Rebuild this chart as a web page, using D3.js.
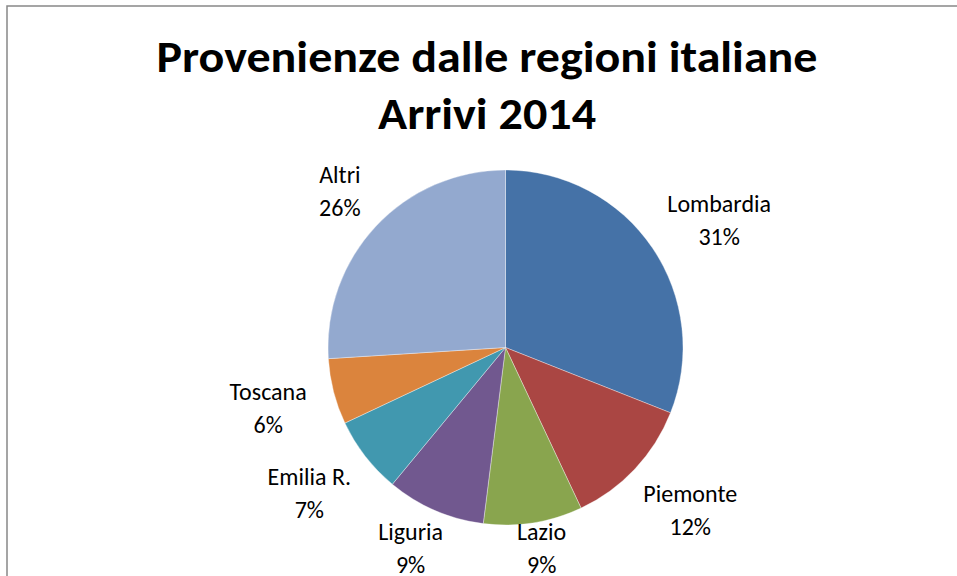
<!DOCTYPE html>
<html>
<head>
<meta charset="utf-8">
<script src="https://cdn.jsdelivr.net/npm/d3@7"></script>
<style>
  body { margin: 0; background: #fff; }
  svg { display: block; font-family: Carlito, Calibri, Lato, sans-serif; }
</style>
</head>
<body>
<div id="chart"></div>
<script>
var regions = ['Lombardia', 'Piemonte', 'Lazio', 'Liguria', 'Emilia R.', 'Toscana', 'Altri'];
var shares = [31, 12, 9, 9, 7, 6, 26];
var sliceColors = ['#4572A7', '#AA4643', '#89A54E', '#71588F', '#4198AF', '#DB843D', '#93A9CF'];
var titleLines = ['Provenienze dalle regioni italiane', 'Arrivi 2014'];

var W = 957, H = 576;
var svg = d3.select('#chart').append('svg')
    .attr('width', W)
    .attr('height', H);

// chart frame (runs off right / bottom)
svg.append('rect')
    .attr('x', 7).attr('y', 6)
    .attr('width', W + 10).attr('height', H + 10)
    .attr('fill', 'none')
    .attr('stroke', '#888')
    .attr('stroke-width', 1.5);

// title
var titleWidths = [661, 218];
svg.selectAll('text.title')
    .data(titleLines)
    .enter().append('text')
    .attr('class', 'title')
    .attr('x', 487)
    .attr('y', function(d, i) { return 72 + i * 57; })
    .attr('text-anchor', 'middle')
    .style('font-size', '44px')
    .style('font-weight', 'bold')
    .attr('textLength', function(d, i) { return titleWidths[i]; })
    .attr('lengthAdjust', 'spacingAndGlyphs')
    .text(function(d) { return d; });

var cx = 505.5, cy = 347.5, r = 177.5;
var data = regions.map(function(d, i) { return {name: d, value: shares[i], color: sliceColors[i]}; });

var pie = d3.pie().sort(null).value(function(d) { return d.value; });
var arc = d3.arc().innerRadius(0).outerRadius(r);
var arcs = pie(data);

var g = svg.append('g').attr('transform', 'translate(' + cx + ',' + cy + ')');

g.selectAll('path')
    .data(arcs)
    .enter().append('path')
    .attr('d', arc)
    .attr('fill', function(d) { return d.data.color; })
    .attr('stroke', '#fff')
    .attr('stroke-width', 0.6)
    .attr('stroke-opacity', 0.6);

// labels: outside end, box touching a point just outside the pie, clamped to chart area
var fs = 24, lh = 33, gap = 22;
var lbl = g.selectAll('g.lbl')
    .data(arcs)
    .enter().append('g')
    .attr('class', 'lbl');

lbl.each(function(d) {
  var sel = d3.select(this);
  var t1 = sel.append('text').attr('text-anchor', 'middle').style('font-size', fs + 'px')
      .attr('fill', '#000').text(d.data.name);
  var t2 = sel.append('text').attr('text-anchor', 'middle').style('font-size', fs + 'px')
      .attr('fill', '#000').text(d3.format('.0f')(d.data.value) + '%');
  var w = Math.max(t1.node().getComputedTextLength(), t2.node().getComputedTextLength()) + 14;
  var h = lh * 2;
  var a = (d.startAngle + d.endAngle) / 2;
  var R = r + gap;
  var px = R * Math.sin(a), py = -R * Math.cos(a);
  var bx = px + Math.sin(a) * w / 2;
  var by = py - Math.cos(a) * h / 2;
  // keep the box inside the chart area
  var maxBottom = H + 2 - cy;
  if (by + h / 2 > maxBottom) by = maxBottom - h / 2;
  t1.attr('x', bx).attr('y', by - 5);
  t2.attr('x', bx).attr('y', by - 5 + lh);
});
</script>
</body>
</html>
